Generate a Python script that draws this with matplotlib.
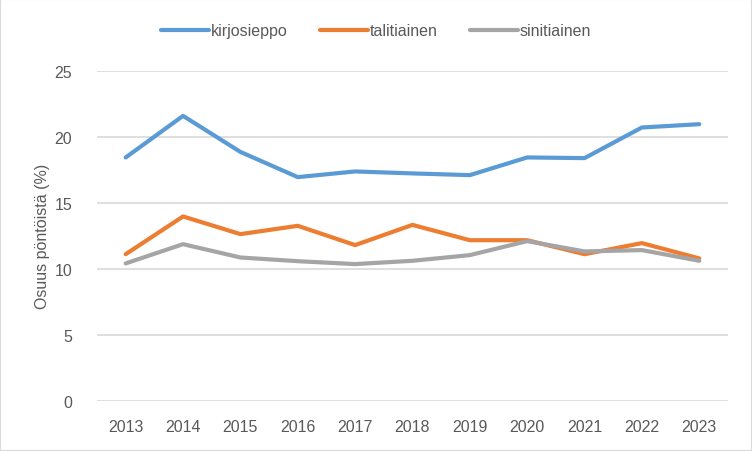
import matplotlib
matplotlib.use("Agg")
import matplotlib.pyplot as plt
from matplotlib.patches import Rectangle

plt.rcParams['font.family'] = ['Liberation Sans', 'DejaVu Sans']

years = ['2013', '2014', '2015', '2016', '2017', '2018', '2019', '2020', '2021', '2022', '2023']
kirjosieppo = [18.44, 21.59, 18.86, 16.95, 17.38, 17.23, 17.1, 18.44, 18.39, 20.71, 20.96]
talitiainen = [11.11, 13.97, 12.63, 13.26, 11.8, 13.33, 12.17, 12.17, 11.11, 11.95, 10.79]
sinitiainen = [10.41, 11.87, 10.86, 10.58, 10.36, 10.61, 11.04, 12.1, 11.32, 11.42, 10.61]

series = [
    ('kirjosieppo', kirjosieppo, '#5B9BD5'),
    ('talitiainen', talitiainen, '#ED7D31'),
    ('sinitiainen', sinitiainen, '#A5A5A5'),
]

text_col = '#595959'
fs = 11.5

fig = plt.figure(figsize=(7.52, 4.52), dpi=100)
fig.patches.append(Rectangle((0, 0), 1, 1, transform=fig.transFigure,
                             fill=False, edgecolor='#D9D9D9', linewidth=1.5))
ax = fig.add_axes([0.129, 0.111, 0.839, 0.730])

x = list(range(len(years)))
for name, vals, col in series:
    ax.plot(x, vals, color=col, linewidth=3, label=name, solid_capstyle='round',
            solid_joinstyle='round', zorder=3)

ax.set_xlim(-0.5, len(years) - 0.5)
ax.set_ylim(0, 25)
ax.set_yticks(range(0, 26, 5))
ax.set_xticks(x)
ax.set_xticklabels(years)
ax.yaxis.grid(True, color='#D9D9D9', linewidth=1.2)
ax.set_axisbelow(True)
for s in ax.spines.values():
    s.set_visible(False)
ax.tick_params(axis='both', length=0, colors=text_col, labelsize=fs)
ax.tick_params(axis='x', pad=13)
ax.tick_params(axis='y', pad=18)
ax.set_ylabel('Osuus pöntöistä (%)', color=text_col, fontsize=fs, labelpad=3)

fig.legend(loc='center', bbox_to_anchor=(0.5, 0.93), ncol=3, frameon=False,
           fontsize=fs, labelcolor=text_col, handlelength=3.0, handletextpad=0.15,
           columnspacing=2.0)

fig.savefig('out.png', dpi=100)
